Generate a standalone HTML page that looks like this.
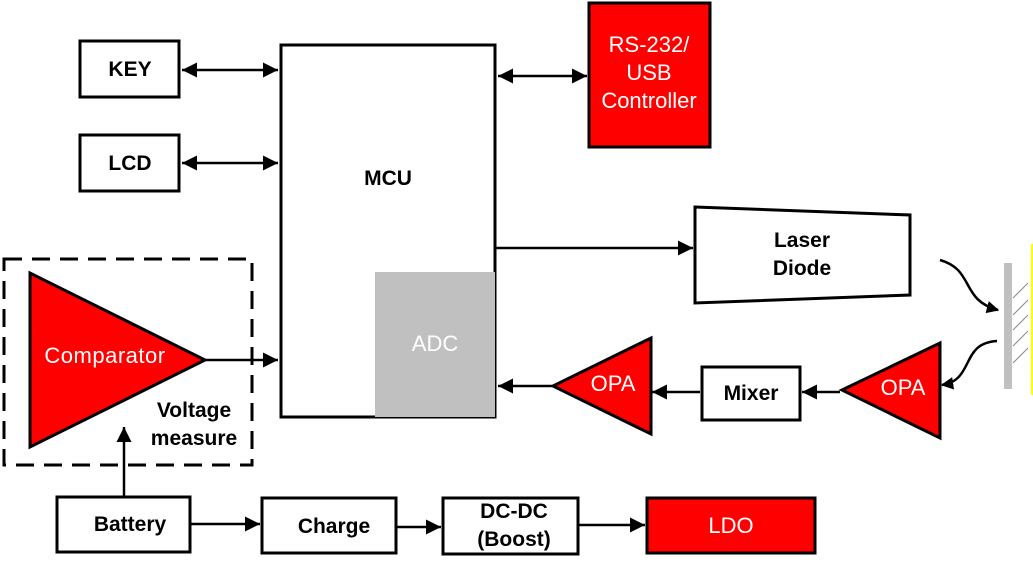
<!DOCTYPE html>
<html><head><meta charset="utf-8"><style>
html,body{margin:0;padding:0;background:#fff;width:1033px;height:566px;overflow:hidden}
text{font-family:"Liberation Sans",sans-serif}
</style></head><body>
<svg width="1033" height="566" viewBox="0 0 1033 566" xmlns="http://www.w3.org/2000/svg">
<defs>
<marker id="a" viewBox="0 0 10 10" refX="10" refY="5" markerWidth="7" markerHeight="6" orient="auto-start-reverse"><path d="M0,0 L10,5 L0,10 z" fill="#000"/></marker>
<marker id="b" viewBox="0 0 10 10" refX="9" refY="5" markerWidth="5" markerHeight="5" orient="auto"><path d="M0,0 L10,5 L0,10 z" fill="#000"/></marker>
</defs>
<g stroke="#000" stroke-width="3" fill="#fff">
<rect x="80" y="41" width="99" height="56"/>
<rect x="80" y="135" width="99" height="56"/>
<rect x="281" y="45" width="214" height="372"/>
<rect x="589" y="3" width="121" height="144" fill="#f00"/>
<polygon points="695,207 910,215 910,295 695,303"/>
<rect x="702" y="367" width="98" height="53"/>
<polygon points="842,390 940,343 940,438" fill="#f00"/>
<polygon points="553,386 651,338 651,434" fill="#f00"/>
<polygon points="30,273 30,447 205,360" fill="#f00"/>
<rect x="57" y="497" width="133" height="55"/>
<rect x="262" y="498" width="134" height="55"/>
<rect x="443" y="498" width="135" height="56"/>
<rect x="647" y="498" width="168" height="55" fill="#f00"/>
</g>
<rect x="375" y="272" width="120" height="145" fill="#c0c0c0"/>
<rect x="4" y="259" width="248" height="206" fill="none" stroke="#000" stroke-width="3" stroke-dasharray="18,10"/>
<g stroke="#000" stroke-width="2.5" fill="none">
<line x1="182" y1="70" x2="278" y2="70" marker-start="url(#a)" marker-end="url(#a)"/>
<line x1="182" y1="163" x2="278" y2="163" marker-start="url(#a)" marker-end="url(#a)"/>
<line x1="498" y1="76" x2="587" y2="76" marker-start="url(#a)" marker-end="url(#a)"/>
<line x1="495" y1="248" x2="693" y2="248" marker-end="url(#a)"/>
<line x1="840" y1="392" x2="802" y2="392" marker-end="url(#a)"/>
<line x1="700" y1="392" x2="652" y2="392" marker-end="url(#a)"/>
<line x1="552" y1="386" x2="498" y2="386" marker-end="url(#a)"/>
<line x1="205" y1="360" x2="278" y2="360" marker-end="url(#a)"/>
<line x1="124" y1="497" x2="124" y2="427" marker-end="url(#a)"/>
<line x1="190" y1="524" x2="260" y2="524" marker-end="url(#a)"/>
<line x1="396" y1="527" x2="441" y2="527" marker-end="url(#a)"/>
<line x1="578" y1="525" x2="645" y2="525" marker-end="url(#a)"/>
<path d="M940,260 C975,270 960,300 998,310" marker-end="url(#b)"/>
<path d="M997,341 C960,343 975,380 942,385" marker-end="url(#b)"/>
</g>
<rect x="1004" y="263" width="8" height="126" fill="#c0c0c0"/>
<line x1="1032" y1="244" x2="1032" y2="395" stroke="#ff0" stroke-width="2"/>
<g stroke="#888" stroke-width="1">
<line x1="1013" y1="298" x2="1028" y2="283"/><line x1="1013" y1="315" x2="1028" y2="300"/>
<line x1="1013" y1="330" x2="1028" y2="315"/><line x1="1013" y1="346" x2="1028" y2="331"/>
<line x1="1013" y1="363" x2="1028" y2="348"/>
</g>
<g font-weight="bold" font-size="21" text-anchor="middle" fill="#000">
<text x="130" y="76">KEY</text>
<text x="130" y="170">LCD</text>
<text x="388" y="185">MCU</text>
<text x="802" y="247">Laser</text>
<text x="802" y="275">Diode</text>
<text x="751" y="400">Mixer</text>
<text x="194" y="417">Voltage</text>
<text x="194" y="445">measure</text>
<text x="130" y="531">Battery</text>
<text x="334" y="533">Charge</text>
<text x="514" y="518">DC-DC</text>
<text x="514" y="546">(Boost)</text>
</g>
<g font-size="22" text-anchor="middle" fill="#fff">
<text x="649" y="52">RS-232/</text>
<text x="649" y="80">USB</text>
<text x="649" y="108">Controller</text>
<text x="435" y="351">ADC</text>
<text x="903" y="395">OPA</text>
<text x="613" y="391">OPA</text>
<text x="105" y="363" letter-spacing="0.5">Comparator</text>
<text x="731" y="533">LDO</text>
</g>
</svg>
</body></html>
